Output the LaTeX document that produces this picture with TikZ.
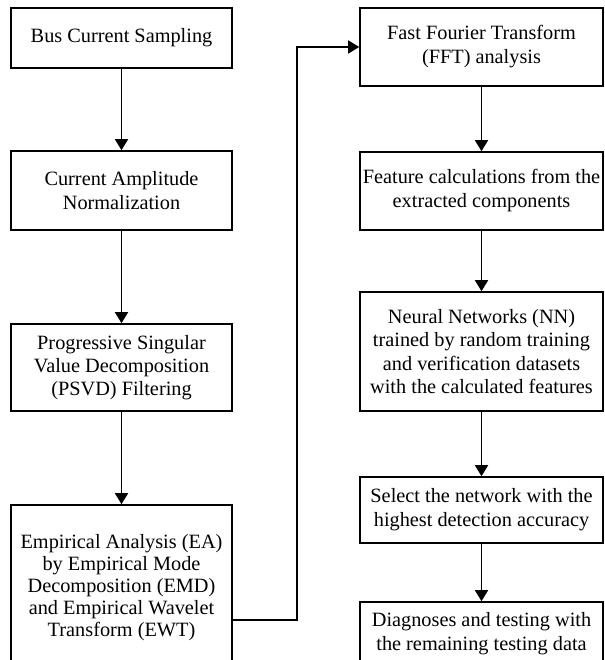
\documentclass[tikz,border=0pt]{standalone}
\usepackage{fontspec}
\setmainfont{Liberation Serif}
\usetikzlibrary{arrows.meta}
\begin{document}
\begin{tikzpicture}[x=1pt,y=-1pt,
  box/.style={draw, line width=1.6pt, rectangle, align=center, inner sep=0pt,
    font=\fontsize{20.3}{24}\selectfont},
  lbox/.style={box, minimum width=221pt},
  rbox/.style={box, minimum width=243pt},
  arr/.style={-{Triangle[length=11pt,width=13pt]}, line width=1.6pt}]
\useasboundingbox (0,0) rectangle (604,660);
\clip (0,0) rectangle (604,660);
\node[lbox, minimum height=60pt] (b1) at (121.5,38) {Bus Current Sampling};
\node[lbox, minimum height=79pt] (b2) at (121.5,190.5) {Current Amplitude\\Normalization};
\node[lbox, minimum height=87pt, font=\fontsize{20.3}{23.3}\selectfont] (b3) at (121.5,367.5) {Progressive Singular\\Value Decomposition\\(PSVD) Filtering};
\node[lbox, minimum height=166pt, font=\fontsize{20.3}{22}\selectfont] (b4) at (121.5,588) {Empirical Analysis (EA)\\by Empirical Mode\\Decomposition (EMD)\\and Empirical Wavelet\\Transform (EWT)};
\node[rbox, minimum height=78pt] (r1) at (481.5,47) {Fast Fourier Transform\\(FFT) analysis};
\node[rbox, minimum height=78pt] (r2) at (481.5,191) {Feature calculations from the\\extracted components};
\node[rbox, minimum height=119pt, font=\fontsize{20.3}{23.3}\selectfont] (r3) at (481.5,351.5) {Neural Networks (NN)\\trained by random training\\and verification datasets\\with the calculated features};
\node[rbox, minimum height=66pt] (r4) at (481.5,510) {Select the network with the\\highest detection accuracy};
\node[rbox, minimum height=64pt] (r5) at (481.5,634) {Diagnoses and testing with\\the remaining testing data};
\draw[arr] (b1) -- (b2);
\draw[arr] (b2) -- (b3);
\draw[arr] (b3) -- (b4);
\draw[arr] ([yshift=-32pt]b4.east) -- ++(64,0) |- (r1.west);
\draw[arr] (r1) -- (r2);
\draw[arr] (r2) -- (r3);
\draw[arr] (r3) -- (r4);
\draw[arr] (r4) -- (r5);
\end{tikzpicture}
\end{document}
